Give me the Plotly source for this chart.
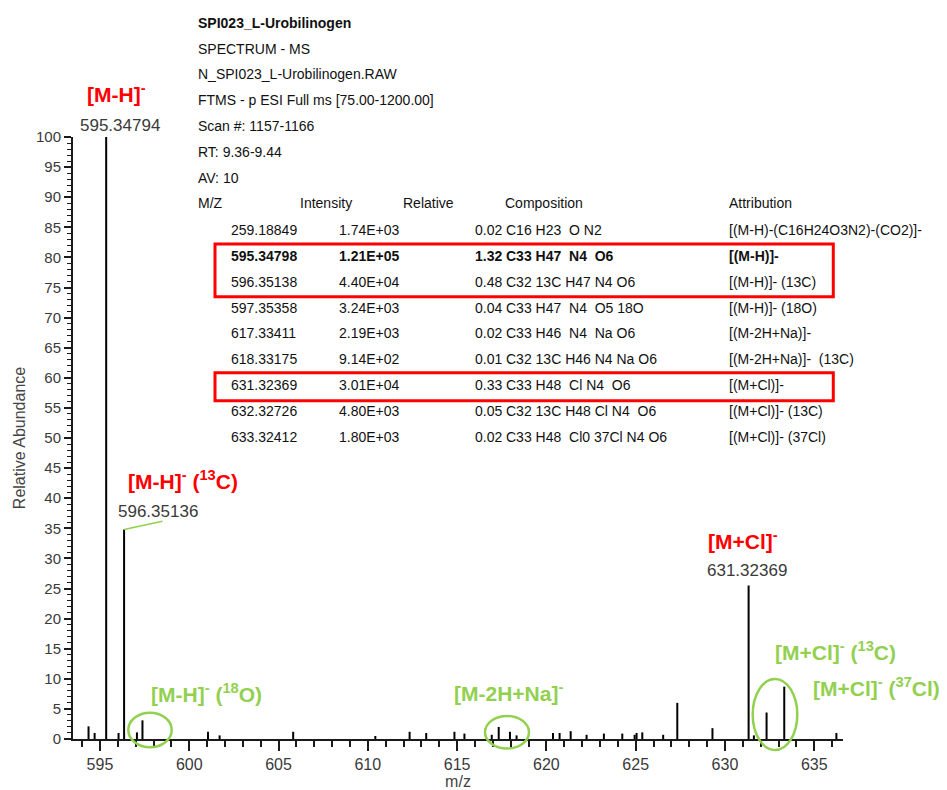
import plotly.graph_objects as go

# ---------------- data ----------------
header_lines = [
    "<b>SPI023_L-Urobilinogen</b>",
    "SPECTRUM - MS",
    "N_SPI023_L-Urobilinogen.RAW",
    "FTMS - p ESI Full ms [75.00-1200.00]",
    "Scan #: 1157-1166",
    "RT: 9.36-9.44",
    "AV: 10",
]
table_headers = ["M/Z", "Intensity", "Relative", "Composition", "Attribution"]
table_mz = ["259.18849", "595.34798", "596.35138", "597.35358", "617.33411",
            "618.33175", "631.32369", "632.32726", "633.32412"]
table_intensity = ["1.74E+03", "1.21E+05", "4.40E+04", "3.24E+03", "2.19E+03",
                   "9.14E+02", "3.01E+04", "4.80E+03", "1.80E+03"]
table_relative = ["0.02", "1.32", "0.48", "0.04", "0.02", "0.01", "0.33", "0.05", "0.02"]
table_composition = ["C16 H23  O N2", "C33 H47  N4  O6", "C32 13C H47 N4 O6",
                     "C33 H47  N4  O5 18O", "C33 H46  N4  Na O6", "C32 13C H46 N4 Na O6",
                     "C33 H48  Cl N4  O6", "C32 13C H48 Cl N4  O6", "C33 H48  Cl0 37Cl N4 O6"]
table_attribution = ["[(M-H)-(C16H24O3N2)-(CO2)]-", "[(M-H)]-", "[(M-H)]- (13C)",
                     "[(M-H)]- (18O)", "[(M-2H+Na)]-", "[(M-2H+Na)]-  (13C)",
                     "[(M+Cl)]-", "[(M+Cl)]- (13C)", "[(M+Cl)]- (37Cl)"]
bold_row = 1

peak_mz = [594.36, 594.70, 595.348, 596.04, 596.351, 597.07, 597.38, 601.05, 601.70,
           605.82, 610.42, 612.34, 613.27, 614.85, 615.41, 616.94, 617.33, 617.96,
           618.33, 620.37, 620.74, 621.36, 622.25, 623.22, 624.25, 624.94, 625.05,
           625.37, 626.54, 627.33, 629.30, 631.324, 631.62, 632.33, 633.32, 636.24]
peak_abund = [2.1, 1.0, 100.0, 1.0, 34.8, 1.1, 3.1, 1.2, 0.6,
              1.2, 0.5, 1.2, 1.0, 1.2, 0.9, 0.7, 2.0, 1.2,
              0.6, 1.0, 1.0, 1.3, 0.7, 0.9, 0.9, 0.7, 1.0,
              1.1, 0.7, 6.0, 1.8, 25.5, 0.6, 4.4, 8.7, 1.0]

mass_labels = ["595.34794", "596.35136", "631.32369"]

# ---------------- helpers ----------------
L, T, W, H = 73, 137, 770, 602
def px(x):
    return (x - L) / W
def py(y):
    return (T + H - y) / H

FONT = "Arial, Liberation Sans, sans-serif"
RED = "#FF0000"
GREEN = "#92D050"

# stick spectrum
xs, ys = [], []
for m, a in zip(peak_mz, peak_abund):
    xs += [m, m, None]
    ys += [0, a, None]

fig = go.Figure()
fig.add_trace(go.Scatter(x=xs, y=ys, mode="lines",
                         line=dict(color="black", width=2),
                         hoverinfo="skip", showlegend=False, cliponaxis=False))

annotations = []
shapes = []

# header block
for i, t in enumerate(header_lines):
    annotations.append(dict(text=t, x=px(196), y=py(22.7 + i * 25.85),
                            xref="paper", yref="paper", xanchor="left", yanchor="middle",
                            showarrow=False, font=dict(family=FONT, size=14, color="#111")))

# table header
hdr_x = [196, 298, 401, 503, 726.5]
for t, x in zip(table_headers, hdr_x):
    annotations.append(dict(text=t, x=px(x), y=py(203.3), xref="paper", yref="paper",
                            xanchor="left", yanchor="middle", showarrow=False,
                            font=dict(family=FONT, size=14, color="#111")))

col_x = [229, 336.5, 473.3, 503.5, 726.5]
for i in range(len(table_mz)):
    yy = py(230 + i * 25.85)
    vals = [table_mz[i], table_intensity[i], table_relative[i],
            table_composition[i], table_attribution[i]]
    for v, x in zip(vals, col_x):
        txt = v.replace("  ", "\u00a0 ")
        if i == bold_row:
            txt = "<b>" + txt + "</b>"
        annotations.append(dict(text=txt, x=px(x), y=yy, xref="paper", yref="paper",
                                xanchor="left", yanchor="middle", showarrow=False,
                                font=dict(family=FONT, size=14, color="#111")))

# red boxes around table rows
for y0, y1 in [(244, 296.7), (372.7, 400.7)]:
    shapes.append(dict(type="rect", xref="paper", yref="paper",
                       x0=px(215), x1=px(833.3), y0=py(y0), y1=py(y1),
                       line=dict(color=RED, width=3)))

# mass labels on peaks
mass_pos = [(120, 125), (158.3, 511.7), (746.7, 570.7)]
for t, (x, y) in zip(mass_labels, mass_pos):
    annotations.append(dict(text=t, x=px(x), y=py(y), xref="paper", yref="paper",
                            xanchor="center", yanchor="middle", showarrow=False,
                            font=dict(family=FONT, size=17, color="#3a3a3a")))

# leader lines
i595 = peak_mz.index(595.348)
i596 = peak_mz.index(596.351)
m, a = peak_mz[i595], peak_abund[i595]
shapes.append(dict(type="line", xref="x", yref="y", x0=m, x1=m, y0=a, y1=a + 1.0,
                   line=dict(color="#555", width=1.5)))
shapes.append(dict(type="line", xref="x", yref="y", x0=m, x1=m + 0.84, y0=a + 1.0, y1=a + 1.9,
                   line=dict(color=GREEN, width=1.5)))
m, a = peak_mz[i596], peak_abund[i596]
shapes.append(dict(type="line", xref="x", yref="y", x0=m, x1=m + 2.15, y0=a, y1=a + 1.38,
                   line=dict(color=GREEN, width=1.5)))

# ion annotations (red and green)
ion_labels = [
    ("[M-H]<sup>-</sup>", RED, 116, 93.3),
    ("[M-H]<sup>-</sup> (<sup>13</sup>C)", RED, 182.5, 480),
    ("[M+Cl]<sup>-</sup>", RED, 742.5, 540),
    ("[M-H]<sup>-</sup> (<sup>18</sup>O)", GREEN, 206, 693.3),
    ("[M-2H+Na]<sup>-</sup>", GREEN, 508, 692),
    ("[M+Cl]<sup>-</sup> (<sup>13</sup>C)", GREEN, 835, 651),
    ("[M+Cl]<sup>-</sup> (<sup>37</sup>Cl)", GREEN, 876.5, 687),
]
for t, c, x, y in ion_labels:
    annotations.append(dict(text="<b>" + t + "</b>", x=px(x), y=py(y), xref="paper", yref="paper",
                            xanchor="center", yanchor="middle", showarrow=False,
                            font=dict(family=FONT, size=21, color=c)))

# green ellipses
for x0, x1, y0, y1 in [(128.3, 171.7, 712.7, 747.3), (485, 529, 716, 748.5),
                       (752.7, 797.3, 679, 750)]:
    shapes.append(dict(type="circle", xref="paper", yref="paper",
                       x0=px(x0), x1=px(x1), y0=py(y1), y1=py(y0),
                       line=dict(color=GREEN, width=2.5)))

fig.update_layout(
    width=947, height=790,
    margin=dict(l=L, r=947 - L - W, t=T, b=790 - T - H, autoexpand=False),
    paper_bgcolor="white", plot_bgcolor="white",
    font=dict(family=FONT, color="#3a3a3a"),
    annotations=annotations, shapes=shapes,
    xaxis=dict(range=[593.49, 636.61], tick0=595, dtick=5, showgrid=False, zeroline=False,
               showline=True, linecolor="#1a1a1a", linewidth=2,
               ticks="outside", ticklen=10, tickwidth=1.5, tickcolor="#1a1a1a",
               tickfont=dict(size=16, color="#3a3a3a"),
               minor=dict(dtick=1, ticks="outside", ticklen=6, tickwidth=1.5, tickcolor="#1a1a1a"),
               title=dict(text="m/z", font=dict(size=16, color="#444"), standoff=0)),
    yaxis=dict(range=[0, 100], dtick=5, showgrid=False, zeroline=False,
               showline=True, linecolor="#1a1a1a", linewidth=2,
               ticks="outside", ticklen=7, tickwidth=1.5, tickcolor="#1a1a1a",
               tickfont=dict(size=15, color="#3a3a3a"),
               minor=dict(dtick=1, ticks="outside", ticklen=4, tickwidth=1.2, tickcolor="#1a1a1a"),
               title=dict(text="Relative Abundance", font=dict(size=16, color="#444"), standoff=6)),
)

fig.write_html("out.html", config={"displayModeBar": False},
               post_script="document.body.style.margin='0';document.body.style.padding='0';")
